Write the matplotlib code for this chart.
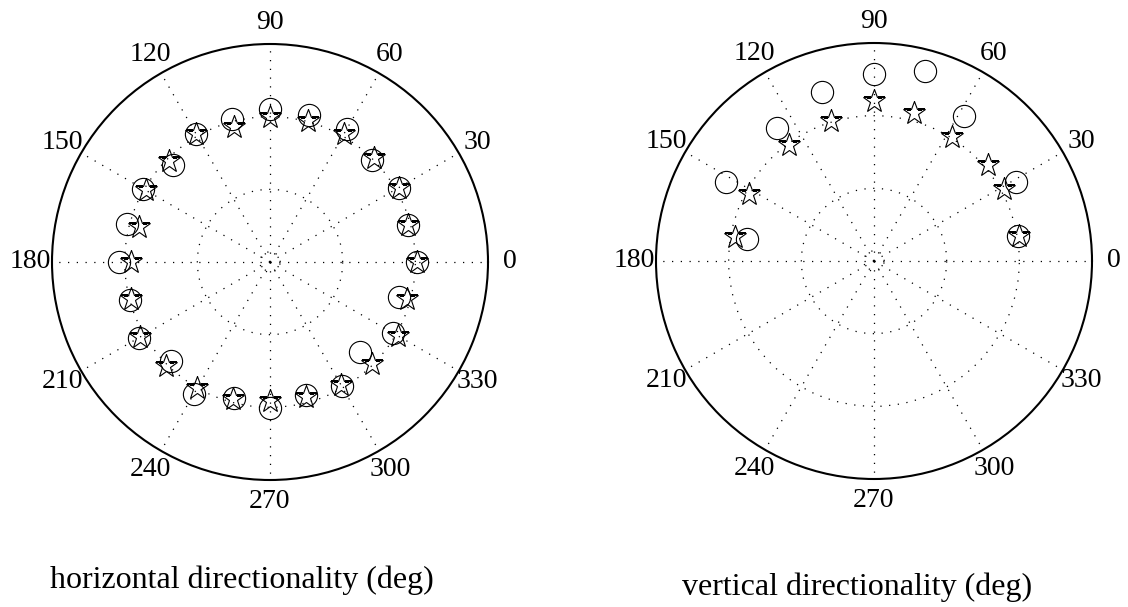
import numpy as np
import matplotlib
matplotlib.use("Agg")
from matplotlib import pyplot as plt

plt.rcParams['font.family'] = ['Liberation Serif', 'DejaVu Serif']

# horizontal directionality: angle (deg) and radius
H_ANG = [0, 15, 30, 45, 60, 75, 90, 105, 120, 135, 150, 165,
         180, 195, 210, 225, 240, 255, 270, 285, 300, 315, 330, 345]
H_CIRC = [2.02, 1.96, 2.05, 1.99, 2.12, 2.09, 2.11, 2.04, 2.04, 1.88, 2.02, 2.04,
          2.08, 2.00, 2.08, 1.92, 2.09, 1.94, 2.01, 1.90, 1.97, 1.76, 1.95, 1.84]
H_STAR = [2.02, 1.96, 2.05, 2.02, 2.04, 2.01, 1.99, 1.93, 2.03, 1.96, 1.97, 1.86,
          1.91, 1.98, 2.06, 2.02, 2.01, 1.95, 1.91, 1.93, 1.95, 1.99, 2.03, 1.95]

# vertical directionality
V_ANG_C = [10, 29, 58, 75, 90, 107, 126, 152, 170]
V_CIRC = [2.01, 2.24, 2.35, 2.70, 2.57, 2.43, 2.27, 2.31, 1.77]
V_ANG_S = [10, 29, 40, 58, 75, 90, 107, 126, 152, 170]
V_STAR = [2.02, 2.05, 2.05, 2.02, 2.11, 2.20, 2.02, 1.98, 1.95, 1.94]

RMAX = 3
RINGS = [0.14, 1, 2]
LABEL_ANG = list(range(0, 360, 30))

fig = plt.figure(figsize=(11.28, 6.07), dpi=100)


def polar_panel(rect, ang_c, r_c, ang_s, r_s):
    ax = fig.add_axes(rect, projection='polar')
    ax.plot(np.deg2rad(ang_c), r_c, 'o', ls='none', ms=16, mfc='none',
            mec='k', mew=0.8)
    ax.plot(np.deg2rad(ang_s), r_s, '*', ls='none', ms=17, mfc='none',
            mec='k', mew=0.8)
    ax.set_ylim(0, RMAX)
    ax.set_rgrids(RINGS, labels=[''] * len(RINGS))
    ax.set_thetagrids(LABEL_ANG, labels=[''] * len(LABEL_ANG))
    ax.grid(True, color='k', lw=0.9, linestyle=(0, (1, 6)))
    ax.spines['polar'].set_linewidth(1.5)
    for a in LABEL_ANG:
        ax.text(np.deg2rad(a), RMAX * 1.1, str(a), ha='center', va='center',
                fontsize=20, clip_on=False)
    return ax


polar_panel([270 / 1128 - 218 / 1128, (607 - 262 - 218) / 607, 436 / 1128, 436 / 607],
            H_ANG, H_CIRC, H_ANG, H_STAR)
polar_panel([874 / 1128 - 218 / 1128, (607 - 261 - 218) / 607, 436 / 1128, 436 / 607],
            V_ANG_C, V_CIRC, V_ANG_S, V_STAR)

fig.text(242 / 1128, (607 - 588) / 607, "horizontal directionality (deg)",
         ha='center', va='baseline', fontsize=23)
fig.text(857 / 1128, (607 - 595) / 607, "vertical directionality (deg)",
         ha='center', va='baseline', fontsize=23)

fig.savefig('out.png', dpi=100)
